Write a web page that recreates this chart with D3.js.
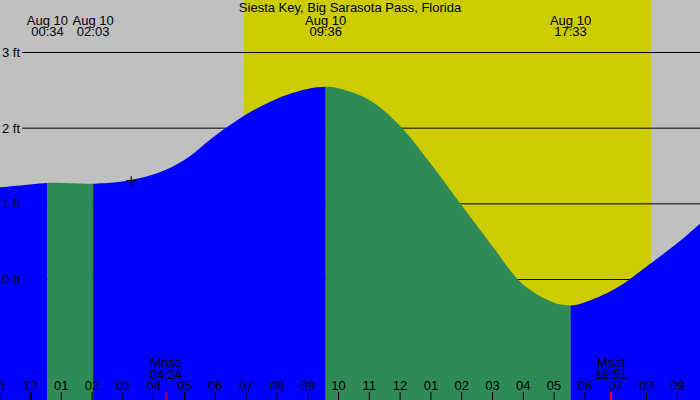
<!DOCTYPE html>
<html>
<head>
<meta charset="utf-8">
<title>Siesta Key tide</title>
<script src="https://d3js.org/d3.v7.min.js"></script>
<style>
  body { margin: 0; }
  svg { display: block; }
  text { font-family: "Liberation Sans", Arial, sans-serif; font-size: 13px; fill: #000; }
</style>
</head>
<body>
<svg width="700" height="400"></svg>
<script>
var title = 'Siesta Key, Big Sarasota Pass, Florida';
var day = '2024-08-10';
var dayLabel = 'Aug 10';

// tide height (ft) read every hour, hours counted from midnight Aug 10
var tideHours = [-1, 0, 1, 2, 3, 4, 5, 6, 7, 8, 9, 10, 11, 12, 13, 14, 15, 16, 17, 18, 19, 20, 21, 22];
var tideFeet = [1.21, 1.25, 1.27, 1.26, 1.29, 1.38, 1.57, 1.89, 2.17, 2.38, 2.51, 2.52, 2.37, 2.03, 1.53, 0.98, 0.44, -0.07, -0.31, -0.31, -0.13, 0.16, 0.47, 0.82];

// highs and lows
var extremeTimes = ['00:34', '02:03', '09:36', '17:33'];
var extremeFeet = [1.27, 1.26, 2.54, -0.35];
var extremeKind = ['H', 'L', 'H', 'L'];

var sunTimes = ['06:57', '20:10'];
var moonTimes = ['04:24', '18:51'];
var moonNames = ['Mrise', 'Mset'];
var gridFeet = [0, 1, 2, 3];
var nowTime = '03:17';
var nowFeet = 1.30;

var W = 700, H = 400;
var parse = d3.timeParse('%Y-%m-%d %H:%M');
function at(hm) { return parse(day + ' ' + hm); }
var midnight = at('00:00');

var x = d3.scaleTime().domain([at('00:00'), at('21:00')]).range([30, 676.8]);
var y = d3.scaleLinear().domain([0, 3]).range([279, 52]);

var svg = d3.select('svg');

// night / day background
svg.append('rect').attr('width', W).attr('height', H).attr('fill', '#c0c0c0');
svg.append('rect')
  .attr('x', x(at(sunTimes[0])))
  .attr('width', x(at(sunTimes[1])) - x(at(sunTimes[0])))
  .attr('height', H)
  .attr('fill', '#cccc00');

// grid lines (under the water)
var grid = svg.append('g')
  .attr('transform', 'translate(22,0)')
  .call(d3.axisLeft(y).tickValues(gridFeet).tickSize(-(W - 22)).tickFormat(''));
grid.select('.domain').remove();
grid.selectAll('line').attr('stroke', '#000');

// tide points: hourly readings plus the extremes
var pts = tideHours.map(function(h, i) {
  return { t: d3.timeMinute.offset(midnight, h * 60), ft: tideFeet[i] };
});
extremeTimes.forEach(function(s, i) {
  pts.push({ t: at(s), ft: extremeFeet[i] });
});
pts.sort(function(a, b) { return a.t - b.t; });

var area = d3.area()
  .x(function(d) { return x(d.t); })
  .y0(H)
  .y1(function(d) { return y(d.ft); })
  .curve(d3.curveCatmullRom.alpha(0.5));

// rising water blue, falling water green
var bounds = [x.invert(-10)].concat(extremeTimes.map(at), [x.invert(W + 10)]);
var defs = svg.append('defs');
for (var i = 0; i < bounds.length - 1; i++) {
  var rising = i < extremeKind.length ? extremeKind[i] === 'H' : extremeKind[extremeKind.length - 1] === 'L';
  defs.append('clipPath').attr('id', 'seg' + i)
    .append('rect')
    .attr('x', x(bounds[i]))
    .attr('width', x(bounds[i + 1]) - x(bounds[i]))
    .attr('y', 0).attr('height', H);
  svg.append('path')
    .datum(pts)
    .attr('clip-path', 'url(#seg' + i + ')')
    .attr('fill', rising ? '#0000ff' : '#2e8b57')
    .attr('d', area);
}

// ft labels on top
var lab = svg.append('g')
  .attr('transform', 'translate(22,0)')
  .call(d3.axisLeft(y).tickValues(gridFeet).tickSize(0).tickPadding(2)
    .tickFormat(function(d) { return d + ' ft'; }));
lab.attr('font-size', null).attr('font-family', null);
lab.select('.domain').remove();
lab.selectAll('text').attr('dy', '0.35em');

// hour axis along the bottom
var hours = d3.timeHour.range(x.invert(-20), x.invert(W + 20));
var hx = svg.append('g')
  .attr('transform', 'translate(0,' + H + ')')
  .call(d3.axisTop(x).tickValues(hours).tickSize(8).tickPadding(2)
    .tickFormat(d3.timeFormat('%I')));
hx.attr('font-size', null).attr('font-family', null);
hx.select('.domain').remove();
hx.selectAll('line').attr('stroke', '#000')
  .attr('stroke-width', function(d) { return d.getHours() === 0 ? 3 : 1; });

// moon rise / set
moonTimes.forEach(function(s, i) {
  var mx = Math.round(x(at(s)));
  svg.append('line')
    .attr('x1', mx).attr('x2', mx).attr('y1', H - 8).attr('y2', H)
    .attr('stroke', '#ff0000').attr('stroke-width', i === 0 ? 1 : 2);
  svg.append('text').attr('x', mx).attr('y', 366.5).attr('text-anchor', 'middle').text(moonNames[i]);
  svg.append('text').attr('x', mx).attr('y', 378.5).attr('text-anchor', 'middle').text(s);
});

// high / low labels at the top
extremeTimes.forEach(function(s) {
  var ex = x(at(s));
  svg.append('text').attr('x', ex).attr('y', 24.5).attr('text-anchor', 'middle').text(dayLabel);
  svg.append('text').attr('x', ex).attr('y', 36).attr('text-anchor', 'middle').text(s);
});

// current time marker
var nx = x(at(nowTime)), ny = y(nowFeet);
svg.append('path')
  .attr('d', 'M' + (nx - 4.5) + ',' + ny + 'h9M' + nx + ',' + (ny - 4.5) + 'v9')
  .attr('stroke', '#000').attr('stroke-width', 1.2);

svg.append('text').attr('x', W / 2).attr('y', 12).attr('text-anchor', 'middle').text(title);
</script>
</body>
</html>
